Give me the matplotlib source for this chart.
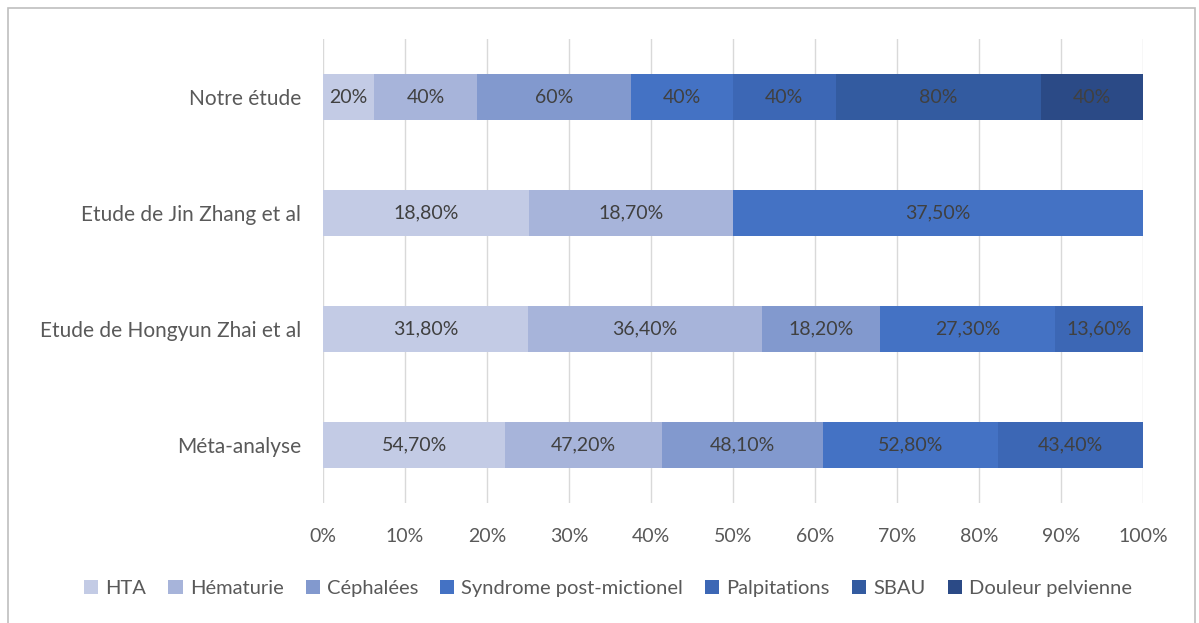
import matplotlib.pyplot as plt
from matplotlib.patches import Rectangle
import numpy as np

plt.rcParams["font.family"] = ["Lato", "DejaVu Sans"]

# bottom to top
studies = ["Méta-analyse", "Etude de Hongyun Zhai et al",
           "Etude de Jin Zhang et al", "Notre étude"]
symptoms = ["HTA", "Hématurie", "Céphalées", "Syndrome post-mictionel",
            "Palpitations", "SBAU", "Douleur pelvienne"]
colors = ["#c3cbe5", "#a7b4da", "#8299ce", "#4472c4",
          "#3c67b5", "#335ba0", "#2b4a86"]

# raw percentages per symptom, one value per study (0 = not reported)
hta = [54.7, 31.8, 18.8, 20]
hematurie = [47.2, 36.4, 18.7, 40]
cephalees = [48.1, 18.2, 0, 60]
syndrome = [52.8, 27.3, 37.5, 40]
palpitations = [43.4, 13.6, 0, 40]
sbau = [0, 0, 0, 80]
douleur = [0, 0, 0, 40]

values = np.array([hta, hematurie, cephalees, syndrome,
                   palpitations, sbau, douleur], dtype=float)
shares = values / values.sum(axis=0) * 100


def fmt(v, row):
    if studies[row] == "Notre étude":
        return f"{v:.0f}%"
    return f"{v:.2f}%".replace(".", ",")


fig = plt.figure(figsize=(11.99, 6.23), dpi=100)
ax = fig.add_axes([0.2694, 0.1926, 0.6839, 0.7448])

y = np.arange(len(studies))
left = np.zeros(len(studies))
for i, name in enumerate(symptoms):
    ax.barh(y, shares[i], left=left, height=0.4, color=colors[i],
            label=name, zorder=2)
    for j in range(len(studies)):
        if values[i, j] > 0:
            ax.text(left[j] + shares[i, j] / 2, y[j], fmt(values[i, j], j),
                    ha="center", va="center", fontsize=14, color="#404040",
                    zorder=3)
    left += shares[i]

ax.set_xlim(0, 100)
ax.set_ylim(-0.5, 3.5)
ax.set_xticks(np.arange(0, 101, 10))
ax.set_xticklabels([f"{t}%" for t in range(0, 101, 10)])
ax.set_yticks(y)
ax.set_yticklabels(studies)
ax.grid(axis="x", color="#d9d9d9", linewidth=1, zorder=0)
ax.tick_params(length=0, labelsize=14, labelcolor="#595959")
ax.tick_params(axis="x", pad=18)
ax.tick_params(axis="y", pad=16, labelsize=15)
for s in ax.spines.values():
    s.set_visible(False)

ax.legend(loc="center", bbox_to_anchor=(0.3476, -0.185),
          ncol=7, frameon=False, fontsize=14.5, handlelength=0.7,
          handleheight=0.7, handletextpad=0.35, columnspacing=1.1,
          labelcolor="#595959")

# outer chart frame
fig.patches.append(Rectangle((8 / 1199, -0.01), 1187 / 1199, 1 - 8 / 623 + 0.01,
                             transform=fig.transFigure, fill=False,
                             edgecolor="#bfbfbf", linewidth=1.2))

fig.savefig("out.png")
